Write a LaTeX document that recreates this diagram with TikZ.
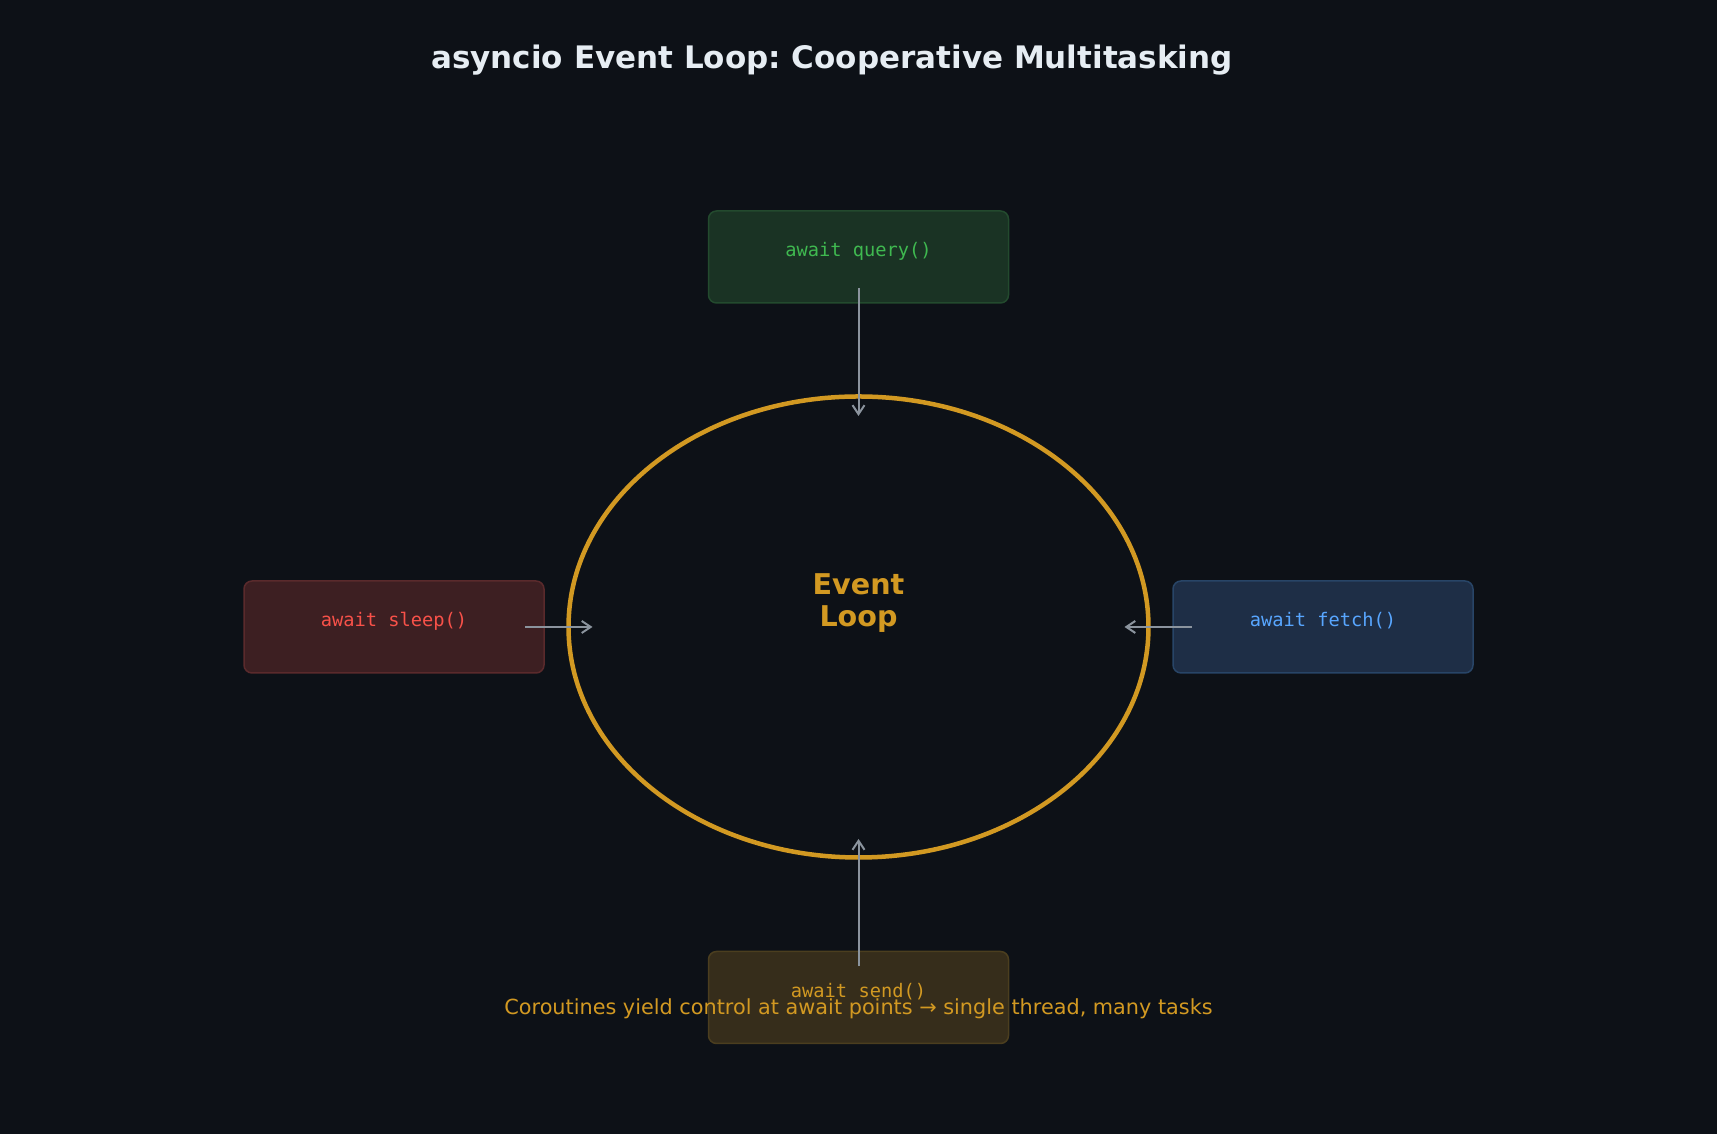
\documentclass[tikz,border=0pt]{standalone}
\usepackage{fontspec}
\setmainfont{DejaVu Sans}
\setmonofont{DejaVu Sans Mono}
\usetikzlibrary{shapes.geometric, arrows.meta, positioning, calc}
\frenchspacing

\definecolor{bgdark}{HTML}{0D1117}
\definecolor{titlewhite}{HTML}{E6EDF3}
\definecolor{loopgold}{HTML}{D29922}
\definecolor{arrowgray}{HTML}{8B949E}
\definecolor{queryfill}{HTML}{1A3324}
\definecolor{queryline}{HTML}{234A2E}
\definecolor{querytext}{HTML}{3FB950}
\definecolor{sleepfill}{HTML}{3D1F22}
\definecolor{sleepline}{HTML}{5A2A2C}
\definecolor{sleeptext}{HTML}{F85149}
\definecolor{fetchfill}{HTML}{1E2E46}
\definecolor{fetchline}{HTML}{284567}
\definecolor{fetchtext}{HTML}{58A6FF}
\definecolor{sendfill}{HTML}{362D1B}
\definecolor{sendline}{HTML}{4B3E1F}

\begin{document}
\begin{tikzpicture}[
        x=1pt, y=1pt,
        node distance=24.5pt,
        loopring/.style={ellipse, draw=loopgold, line width=4.5pt, minimum width=580pt, minimum height=461pt, inner sep=0pt, outer sep=0pt},
        taskbox/.style={rectangle, rounded corners=8pt, line width=1.5pt, minimum width=300pt, minimum height=92pt, text height=10pt, text depth=10pt, inner sep=0pt, outer sep=0pt, font=\ttfamily\fontsize{18.7}{22}\selectfont},
        arrow/.style={-{Straight Barb[length=9pt,width=12pt]}, line width=2pt, arrowgray}
    ]
        \fill[bgdark] (0,0) rectangle (1717,1134);
        \useasboundingbox (0,0) rectangle (1717,1134);

        \node[font=\bfseries\fontsize{31}{36}\selectfont, text=titlewhite] (title) at (832,1074) {asyncio Event Loop: Cooperative Multitasking};

        \node[loopring] (loop) at (858.5,507) {};
        \node[font=\bfseries\fontsize{28.6}{32}\selectfont, text=loopgold, align=center] (looplabel) at ([yshift=24pt]loop.center) {Event\\Loop};

        \node[taskbox, fill=queryfill, draw=queryline, text=querytext, above=93.5pt of loop] (query) {await query()};
        \node[taskbox, fill=sleepfill, draw=sleepline, text=sleeptext, left=of loop] (sleep) {await sleep()};
        \node[taskbox, fill=fetchfill, draw=fetchline, text=fetchtext, right=of loop] (fetch) {await fetch()};
        \node[taskbox, fill=sendfill, draw=sendline, text=loopgold, below=94pt of loop] (send) {await send()};

        \draw[arrow, shorten <=31pt, shorten >=211pt] (query.center) -- (loop.center);
        \draw[arrow, shorten <=131pt, shorten >=266pt] (sleep.center) -- (loop.center);
        \draw[arrow, shorten <=131pt, shorten >=266pt] (fetch.center) -- (loop.center);
        \draw[arrow, shorten <=31pt, shorten >=212pt] (send.center) -- (loop.center);

        \node[font=\fontsize{20.8}{25}\selectfont, text=loopgold] (footer) at (858.5,125.5) {Coroutines yield control at await points → single thread, many tasks};
    \end{tikzpicture}
\end{document}
